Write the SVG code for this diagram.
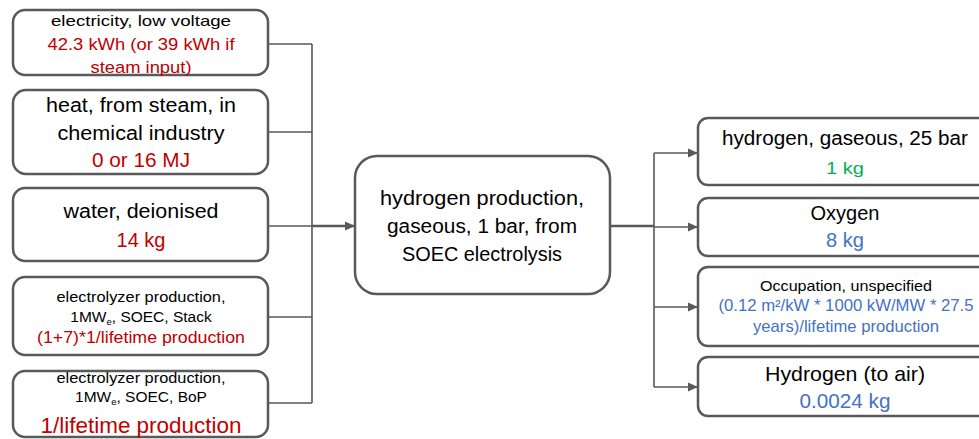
<svg xmlns="http://www.w3.org/2000/svg" width="979" height="439" viewBox="0 0 979 439">
<style>
.box{fill:#fff;stroke:#595959;stroke-width:2.5}
.ln{fill:none;stroke:#595959;stroke-width:1.6}
.thick{fill:none;stroke:#595959;stroke-width:2.4}
text{font-family:"Liberation Sans",Arial,sans-serif;text-anchor:middle;fill:#000}
.r{fill:#C00000}.g{fill:#00B050}.b{fill:#4472C4}
</style>
<defs>
<marker id="ah" markerWidth="10" markerHeight="10" refX="9" refY="5" orient="auto" markerUnits="userSpaceOnUse">
<path d="M0,0.5 L10,5 L0,9.5 z" fill="#595959"/>
</marker>
</defs>
<rect width="979" height="439" fill="#fff"/>
<g id="connectors">
<path class="ln" d="M268,44 H312 M268,132 H312 M268,226 H312 M268,317 H312 M268,403 H312 M312,44 V403"/>
<path class="thick" d="M312,226 H354" marker-end="url(#ah)"/>
<path class="thick" d="M610,226 H654"/>
<path class="ln" d="M654,153 V387"/>
<path class="ln" d="M654,153 H697" marker-end="url(#ah)"/>
<path class="ln" d="M654,227 H697" marker-end="url(#ah)"/>
<path class="ln" d="M654,307 H697" marker-end="url(#ah)"/>
<path class="ln" d="M654,387 H697" marker-end="url(#ah)"/>
</g>
<g id="n1">
<rect class="box" x="13" y="10" width="255" height="65" rx="12"/>
<text x="141" y="26" font-size="15" textLength="180" lengthAdjust="spacingAndGlyphs">electricity, low voltage</text>
<text class="r" x="141" y="50" font-size="17" textLength="187" lengthAdjust="spacingAndGlyphs">42.3 kWh (or 39 kWh if</text>
<text class="r" x="141" y="73" font-size="17" textLength="101" lengthAdjust="spacingAndGlyphs">steam input)</text>
</g>
<g id="n2">
<rect class="box" x="13" y="90" width="255" height="84" rx="13"/>
<text x="141" y="112" font-size="20" textLength="190" lengthAdjust="spacingAndGlyphs">heat, from steam, in</text>
<text x="141" y="140" font-size="20" textLength="167" lengthAdjust="spacingAndGlyphs">chemical industry</text>
<text class="r" x="141" y="167" font-size="20" textLength="98" lengthAdjust="spacingAndGlyphs">0 or 16 MJ</text>
</g>
<g id="n3">
<rect class="box" x="13" y="188" width="255" height="73" rx="12"/>
<text x="141" y="218" font-size="20" textLength="155" lengthAdjust="spacingAndGlyphs">water, deionised</text>
<text class="r" x="141" y="247" font-size="20" textLength="49" lengthAdjust="spacingAndGlyphs">14 kg</text>
</g>
<g id="n4">
<rect class="box" x="13" y="277" width="255" height="78" rx="12"/>
<text x="141" y="302" font-size="15" textLength="169" lengthAdjust="spacingAndGlyphs">electrolyzer production,</text>
<text x="141" y="322" font-size="15.5">1MW<tspan font-size="9.5" dy="3">e</tspan><tspan dy="-3">, SOEC, Stack</tspan></text>
<text class="r" x="141" y="343" font-size="17" textLength="208" lengthAdjust="spacingAndGlyphs">(1+7)*1/lifetime production</text>
</g>
<g id="n5">
<rect class="box" x="13" y="371" width="255" height="66" rx="12"/>
<text x="141" y="383" font-size="15" textLength="169" lengthAdjust="spacingAndGlyphs">electrolyzer production,</text>
<text x="141" y="402" font-size="15.5">1MW<tspan font-size="9.5" dy="3">e</tspan><tspan dy="-3">, SOEC, BoP</tspan></text>
<text class="r" x="141" y="433" font-size="22" textLength="201" lengthAdjust="spacingAndGlyphs">1/lifetime production</text>
</g>
<g id="center">
<rect class="box" x="355" y="156" width="255" height="138" rx="22"/>
<text x="482" y="205" font-size="20" textLength="204" lengthAdjust="spacingAndGlyphs">hydrogen production,</text>
<text x="482" y="233" font-size="20" textLength="190" lengthAdjust="spacingAndGlyphs">gaseous, 1 bar, from</text>
<text x="482" y="261" font-size="20" textLength="160" lengthAdjust="spacingAndGlyphs">SOEC electrolysis</text>
</g>
<g id="o1">
<rect class="box" x="698" y="118" width="300" height="67" rx="10"/>
<text x="845" y="145" font-size="20" textLength="246" lengthAdjust="spacingAndGlyphs">hydrogen, gaseous, 25 bar</text>
<text class="g" x="845" y="174" font-size="17" textLength="38" lengthAdjust="spacingAndGlyphs">1 kg</text>
</g>
<g id="o2">
<rect class="box" x="698" y="198" width="300" height="58" rx="10"/>
<text x="845" y="220" font-size="20" textLength="69" lengthAdjust="spacingAndGlyphs">Oxygen</text>
<text class="b" x="845" y="247" font-size="20" textLength="38" lengthAdjust="spacingAndGlyphs">8 kg</text>
</g>
<g id="o3">
<rect class="box" x="698" y="267" width="300" height="79" rx="10"/>
<text x="846" y="291" font-size="15" textLength="172" lengthAdjust="spacingAndGlyphs">Occupation, unspecified</text>
<text class="b" x="846" y="311" font-size="16.5" textLength="255" lengthAdjust="spacingAndGlyphs">(0.12 m²/kW * 1000 kW/MW * 27.5</text>
<text class="b" x="846" y="332" font-size="16.5" textLength="186" lengthAdjust="spacingAndGlyphs">years)/lifetime production</text>
</g>
<g id="o4">
<rect class="box" x="698" y="357" width="300" height="59" rx="10"/>
<text x="845" y="381" font-size="21" textLength="160" lengthAdjust="spacingAndGlyphs">Hydrogen (to air)</text>
<text class="b" x="845" y="408" font-size="21" textLength="91" lengthAdjust="spacingAndGlyphs">0.0024 kg</text>
</g>
</svg>
